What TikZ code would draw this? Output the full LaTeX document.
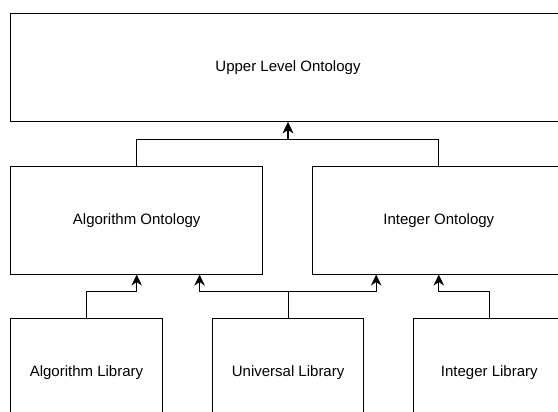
\documentclass[tikz,border=0pt]{standalone}
\usepackage{fontspec}
\setmainfont{Liberation Sans}
\usepackage{tikz}
\usetikzlibrary{positioning,arrows.meta}

\tikzset{
  box/.style={draw, line width=1pt, inner sep=0pt, font=\fontsize{15}{18}\selectfont},
  link/.style={draw, line width=1.2pt, -{Stealth[length=11pt,width=10.5pt,inset=3.5pt]}}
}

\begin{document}
\begin{tikzpicture}[x=1pt,y=-1pt]
\useasboundingbox (0,0) rectangle (558,412);
\node[box, minimum width=554.6pt, minimum height=107.8pt] (upper) at (288,67.8) {Upper Level Ontology};
\node[box, minimum width=252pt, minimum height=107.7pt] (algont) at (136.7,220.2) {Algorithm Ontology};
\node[box, minimum width=252pt, minimum height=107.7pt] (intont) at (438.8,220.2) {Integer Ontology};
\node[box, minimum width=151.6pt, minimum height=107.7pt] (alglib) at (86.5,372.6) {Algorithm Library};
\node[box, minimum width=151.6pt, minimum height=107.7pt] (unilib) at (288.1,372.6) {Universal Library};
\node[box, minimum width=151.6pt, minimum height=107.7pt] (intlib) at (489.3,372.6) {Integer Library};
\coordinate (topjoin) at (288,139.6);
\draw[link] (algont.north) |- (topjoin) -- (upper.south);
\draw[link] (intont.north) |- (topjoin) -- (upper.south);
\draw[link] (alglib.north) -- ++(0,-26.7) -| (algont.south);
\draw[link] (unilib.north) -- ++(0,-26.7) -| ([xshift=62.9pt]algont.south);
\draw[link] (unilib.north) -- ++(0,-26.7) -| ([xshift=-62.6pt]intont.south);
\draw[link] (intlib.north) -- ++(0,-26.7) -| (intont.south);
\end{tikzpicture}
\end{document}
